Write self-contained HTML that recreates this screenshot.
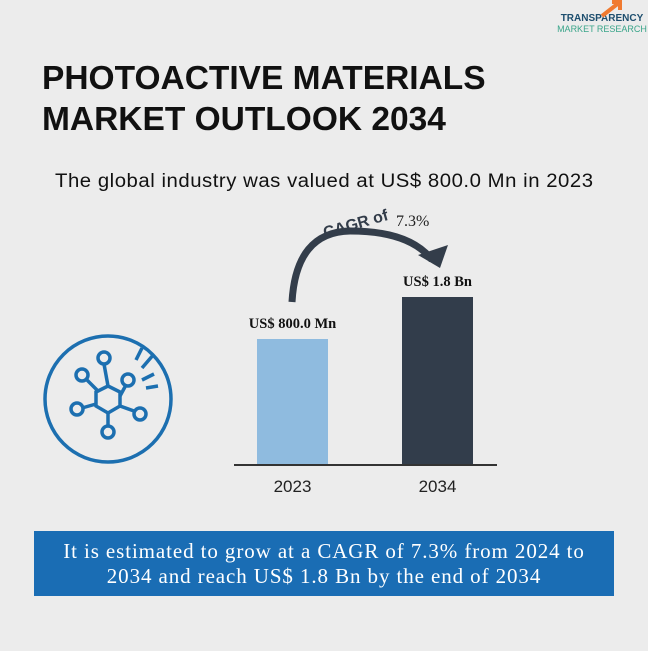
<!DOCTYPE html>
<html><head><meta charset="utf-8"><style>
body{margin:0;width:648px;height:651px;background:#ececec;overflow:hidden;position:relative;font-family:"Liberation Sans",sans-serif}
.abs{position:absolute}
</style></head><body>
<div class="abs" style="left:556px;top:14px;width:92px;text-align:center;line-height:10px">
<div style="font-size:10px;font-weight:bold;color:#1d4e6e">TRANSPARENCY</div>
<div style="font-size:9px;color:#3aa58a">MARKET RESEARCH</div>
</div>
<svg class="abs" style="left:598px;top:0" width="30" height="18"><path d="M4 16 L22 2 M14 2 L22 2 L22 10" stroke="#f07a30" stroke-width="4" fill="none"/></svg>
<div class="abs" style="left:42px;top:58px;font-size:33.5px;font-weight:bold;color:#111;line-height:41px">PHOTOACTIVE MATERIALS<br>MARKET OUTLOOK 2034</div>
<div class="abs" style="left:55px;top:171px;font-size:19px;color:#111;letter-spacing:0.5px;transform:scaleX(1.07);transform-origin:left">The global industry was valued at US$ 800.0 Mn in 2023</div>
<svg class="abs" style="left:42px;top:334px" width="140" height="136" fill="none" stroke="#1c6fb0" stroke-width="3.5">
<circle cx="66" cy="65" r="63"/>
<polygon points="66,52 78,58 78,72 66,79 54,72 54,58"/>
<line x1="66" y1="52" x2="62" y2="30"/><circle cx="62" cy="24" r="6"/>
<line x1="56" y1="57" x2="44" y2="45"/><circle cx="40" cy="41" r="6"/>
<line x1="54" y1="70" x2="40" y2="74"/><circle cx="35" cy="75" r="6"/>
<line x1="78" y1="62" x2="84" y2="51"/><circle cx="86" cy="46" r="6"/>
<line x1="78" y1="72" x2="92" y2="77"/><circle cx="98" cy="80" r="6"/>
<line x1="66" y1="79" x2="66" y2="92"/><circle cx="66" cy="98" r="6"/>
<line x1="94" y1="26" x2="100" y2="14"/><line x1="100" y1="34" x2="112" y2="20"/><line x1="100" y1="46" x2="112" y2="40"/><line x1="104" y1="54" x2="116" y2="52"/>
</svg>
<svg class="abs" id="chart" style="left:0;top:0" width="648" height="520"></svg>
<div class="abs" style="left:34px;top:531px;width:580px;height:65px;background:#1a6db4;color:#fff;font-family:'Liberation Serif',serif;font-size:21px;text-align:center;line-height:25px;padding-top:8px;box-sizing:border-box;letter-spacing:0.9px">It is estimated to grow at a CAGR of 7.3% from 2024 to<br>2034 and reach US$ 1.8 Bn by the end of 2034</div>
<script>
const categories=["2023","2034"];
const values=[0.8,1.8];
const valueLabels=["US$ 800.0 Mn","US$ 1.8 Bn"];
const colors=["#8fbbdf","#323d4b"];
const NS="http://www.w3.org/2000/svg";
const svg=document.getElementById('chart');
const base=465;
function y(v){return base-(92.4+42*v);}
function x(i){return 257+i*145;}
const bw=71;
function mk(t,a){const e=document.createElementNS(NS,t);for(const k in a)e.setAttribute(k,a[k]);svg.appendChild(e);return e;}
values.forEach((v,i)=>{
const r=mk('rect',{x:x(i),y:y(v),width:bw,height:base-y(v),fill:colors[i]});


const l=mk('text',{x:x(i)+bw/2,y:y(v)-11,'text-anchor':'middle','font-family':'Liberation Serif,serif','font-weight':'bold','font-size':'14.5',fill:'#111'});
l.textContent=valueLabels[i];


const c=mk('text',{x:x(i)+bw/2,y:base+27,'text-anchor':'middle','font-size':'17',fill:'#222'});
c.textContent=categories[i];


});
const ax=mk('line',{x1:234,x2:497,y1:base,y2:base,stroke:'#333','stroke-width':2});


const arc=mk('path',{d:'M292 302 Q296 232 350 231 Q410 231 432 260',stroke:'#333d4a','stroke-width':7,fill:'none'});


const head=mk('path',{d:'M418 255 L448 245 L440 268 Z',fill:'#333d4a'});


const ct=mk('text',{x:325,y:238,'font-size':'16','font-weight':'bold',fill:'#333d4a',transform:'rotate(-16 325 238)'});
ct.textContent='CAGR of';


const cv=mk('text',{x:396,y:226,'font-family':'Liberation Serif,serif','font-size':'16',fill:'#222'});
cv.textContent='7.3%';


</script>
</body></html>
